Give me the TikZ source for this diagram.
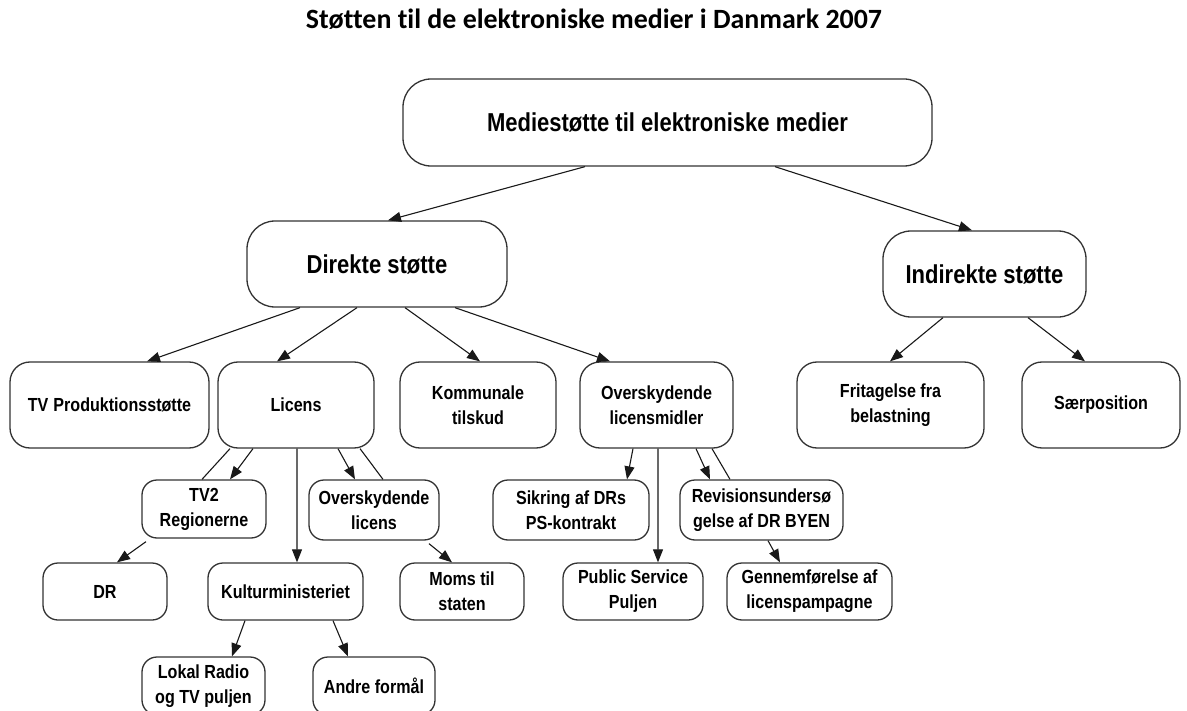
\documentclass[tikz,border=0pt]{standalone}
\usepackage{fontspec}
\usetikzlibrary{arrows.meta}
\newfontfamily\boxfont{Liberation Sans}[FakeStretch=0.85]
\newfontfamily\titlefont{Carlito}[Ligatures=NoCommon]
\tikzset{
  box/.style={draw=black!80, line width=1.3bp, rounded corners=#1, align=center, inner sep=0pt,
    font=\boxfont\bfseries\fontsize{19}{25}\selectfont},
  box/.default=15bp,
  bigbox/.style={box=28bp, font=\boxfont\bfseries\fontsize{26}{30}\selectfont},
  arr/.style={draw=black!90, line width=1.1bp, -{Triangle[length=13bp,width=10bp]}},
  ln/.style={draw=black!90, line width=1.1bp},
}
\begin{document}
\begin{tikzpicture}[x=1bp,y=-1bp]
\useasboundingbox (0,0) rectangle (1187,711);
\clip (0,0) rectangle (1187,711);
\node[font=\titlefont\bfseries\fontsize{28}{30}\selectfont] (title) at (594,19) {Støtten til de elektroniske medier i Danmark 2007};

\node[bigbox, minimum width=529bp, minimum height=87bp] (top) at (667.5,122.5) {Mediestøtte til elektroniske medier};
\node[bigbox, minimum width=260bp, minimum height=86bp] (dir) at (377,264) {Direkte støtte};
\node[bigbox, minimum width=203bp, minimum height=86bp] (ind) at (984.5,274) {Indirekte støtte};

\node[box=20bp, minimum width=199bp, minimum height=86bp] (tvp) at (109.5,405) {TV\hspace{5bp}Produktionsstøtte};
\node[box=20bp, minimum width=156bp, minimum height=86bp] (lic) at (296,405) {Licens};
\node[box=20bp, minimum width=156bp, minimum height=86bp] (kom) at (478,405) {Kommunale\\tilskud};
\node[box=20bp, minimum width=153bp, minimum height=86bp] (olm) at (656.5,405) {Overskydende\\licensmidler};
\node[box=20bp, minimum width=187bp, minimum height=86bp] (fri) at (890.5,405) {Fritagelse fra\\belastning};
\node[box=20bp, minimum width=158bp, minimum height=86bp] (sae) at (1101,405) {Særposition};

\node[box, minimum width=124bp, minimum height=58bp] (tv2) at (204,509) {TV2\\Regionerne};
\node[box, minimum width=130bp, minimum height=60bp] (ol) at (374,510) {Overskydende\\licens};
\node[box, minimum width=156bp, minimum height=60bp] (sik) at (571,510) {Sikring af DRs\\PS-kontrakt};
\node[box, minimum width=163bp, minimum height=60bp] (rev) at (761.5,510) {Revisionsundersø\\gelse af DR BYEN};

\node[box, minimum width=124bp, minimum height=57bp] (dr) at (105,591.5) {DR};
\node[box, minimum width=155bp, minimum height=57bp] (kul) at (285.5,591.5) {Kulturministeriet};
\node[box, minimum width=124bp, minimum height=57bp] (moms) at (462,591.5) {Moms til\\staten};
\node[box, minimum width=140bp, minimum height=57bp] (pub) at (633,591.5) {Public Service\\Puljen};
\node[box, minimum width=165bp, minimum height=57bp] (gen) at (809.5,591.5) {Gennemførelse af\\licenspampagne};

\node[box, minimum width=123bp, minimum height=58bp] (lok) at (203.5,686) {Lokal Radio\\og TV puljen};
\node[box, minimum width=122bp, minimum height=58bp] (and) at (374,686) {Andre formål};

\draw[arr] ([xshift=-82.5bp]top.south) -- ([xshift=11bp]dir.north);
\draw[arr] ([xshift=107.5bp]top.south) -- ([xshift=-12.5bp]ind.north);

\draw[arr] ([xshift=-77bp]dir.south) -- ([xshift=37.5bp]tvp.north);
\draw[arr] ([xshift=-20bp]dir.south) -- ([xshift=-19bp]lic.north);
\draw[arr] ([xshift=28bp]dir.south) -- ([xshift=2bp]kom.north);
\draw[arr] ([xshift=78bp]dir.south) -- ([xshift=-46.5bp]olm.north);

\draw[arr] ([xshift=-41.5bp]ind.south) -- ([xshift=-0.5bp]fri.north);
\draw[arr] ([xshift=43.5bp]ind.south) -- ([xshift=-16bp]sae.north);

\draw[ln] ([xshift=-66bp]lic.south) -- ([xshift=-2bp]tv2.north);
\draw[arr] ([xshift=-43bp]lic.south) -- ([xshift=26bp]tv2.north);
\draw[arr] ([xshift=1bp]lic.south) -- ([xshift=11.5bp]kul.north);
\draw[arr] ([xshift=42bp]lic.south) -- ([xshift=-19bp]ol.north);
\draw[ln] ([xshift=64bp]lic.south) -- ([xshift=9bp]ol.north);

\draw[arr] ([xshift=-58bp,yshift=-3bp]tv2.south) -- ([xshift=12bp]dr.north);
\draw[arr] ([xshift=55bp,yshift=-3bp]ol.south) -- ([xshift=-10bp]moms.north);
\draw[arr] ([xshift=-40.5bp]kul.south) -- ([xshift=28.5bp]lok.north);
\draw[arr] ([xshift=47.5bp]kul.south) -- ([xshift=-26bp]and.north);

\draw[arr] ([xshift=-23.5bp]olm.south) -- ([xshift=56bp]sik.north);
\draw[arr] ([xshift=1.5bp]olm.south) -- ([xshift=25bp]pub.north);
\draw[arr] ([xshift=39.5bp]olm.south) -- ([xshift=-51.5bp]rev.north);
\draw[ln] ([xshift=55.5bp]olm.south) -- ([xshift=-31.5bp]rev.north);
\draw[arr] ([xshift=6.5bp]rev.south) -- ([xshift=-29.5bp]gen.north);
\end{tikzpicture}
\end{document}
